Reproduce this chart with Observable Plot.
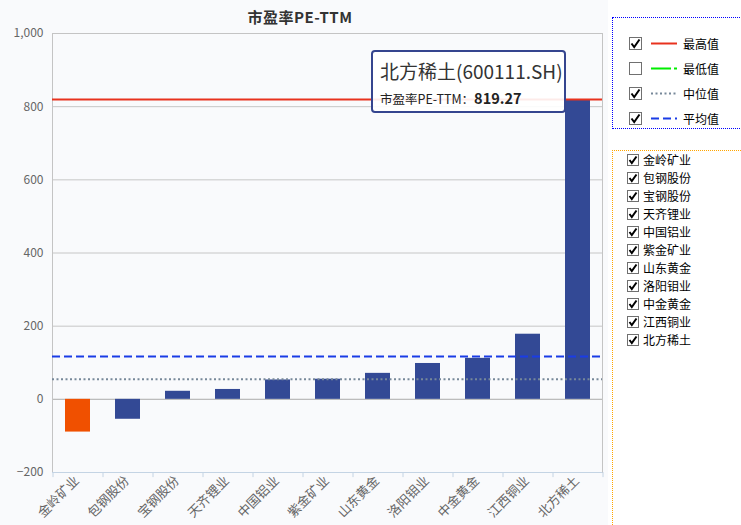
<!DOCTYPE html>
<html><head><meta charset="utf-8">
<script src="https://cdn.jsdelivr.net/npm/d3@7"></script>
<script src="https://cdn.jsdelivr.net/npm/@observablehq/plot@0.6"></script>
<style>
body{margin:0;background:#fff;font-family:"Noto Sans CJK SC","Noto Sans",sans-serif;}
#wrap{position:relative;width:741px;height:525px;overflow:hidden;background:#fff;}
#chart{position:absolute;left:0;top:0;}
#title{position:absolute;left:0;width:600px;top:7px;text-align:center;font-weight:bold;font-size:15px;letter-spacing:0.5px;line-height:20px;color:#333;}
#tip{position:absolute;left:371px;top:50px;width:191px;height:59px;border:2px solid #35458f;border-radius:4px;background:rgba(255,255,255,0.9);color:#222;}
#tip .t1{position:absolute;left:7px;top:5px;font-size:19px;color:#333;white-space:nowrap;}
#tip .t2{position:absolute;left:7px;top:38px;font-size:12.5px;white-space:nowrap;line-height:16px;}
#tip .t2 b{font-size:14.5px;}
#lg1{position:absolute;left:612px;top:17px;width:140px;height:110px;border:1px dotted #0000ff;}
#lg2{position:absolute;left:612px;top:150px;width:140px;height:400px;border-left:1px dotted #ffa500;border-top:1px dotted #ffa500;}
.row{position:absolute;font-size:12px;color:#000;white-space:nowrap;}
.row svg{position:absolute;left:0;top:0;}
.row span{position:absolute;}
</style></head>
<body>
<div id="wrap">
  <div id="chart"></div>
  <div id="title"></div>
  <div id="tip"><div class="t1"></div><div class="t2"></div></div>
  <div id="lg1"></div>
  <div id="lg2"></div>
</div>
<script>
const chartTitle = "市盈率PE-TTM";
const categories = ["金岭矿业","包钢股份","宝钢股份","天齐锂业","中国铝业","紫金矿业","山东黄金","洛阳钼业","中金黄金","江西铜业","北方稀土"];
const peValues = [-89.5, -54.5, 22, 27, 53, 55, 71, 98, 112, 178, 819.27];
const highlighted = "金岭矿业";
const yTicks = [-200, 0, 200, 400, 600, 800, 1000];
const refLabels = ["最高值","最低值","中位值","平均值"];
const refChecked = [true, false, true, true];
const tipName = "北方稀土";
const tipCode = "600111.SH";

const data = categories.map((c, i) => ({name: c, pe: peValues[i]}));
const stats = [d3.max(peValues), d3.min(peValues), d3.median(peValues), d3.mean(peValues)];
const refStyles = [
  {stroke: "#e8321e", strokeWidth: 2},
  {stroke: "#00ee00", strokeWidth: 2, strokeDasharray: "20,3,3,3"},
  {stroke: "#778899", strokeWidth: 2, strokeDasharray: "2,2.5"},
  {stroke: "#1a3ce6", strokeWidth: 2, strokeDasharray: "8,4"}
];

const refMarks = stats.map((v, i) => refChecked[i] ? Plot.ruleY([v], refStyles[i]) : null).filter(Boolean);

const chart = Plot.plot({
  width: 608, height: 525,
  marginTop: 33, marginBottom: 53, marginLeft: 52, marginRight: 6,
  style: {background: "#f9fafc", fontFamily: '"Noto Sans CJK SC","Noto Sans",sans-serif', fontSize: "12px", color: "#666"},
  x: {domain: categories, paddingInner: 0.5, paddingOuter: 0.25},
  y: {domain: [-200, 1000]},
  marks: [
    Plot.ruleY(yTicks.filter(t => t > -200), {stroke: "#c6c6c6"}),
    Plot.ruleY([0], {stroke: "#b8b8b8"}),
    Plot.frame({stroke: "#c4c4c4", fill: "none"}),
    Plot.ruleY([-200], {stroke: "#c4d4e4"}),
    Plot.ruleX(categories, {x: d => d, dx: -25, y1: -200, y2: -214, stroke: "#c4d4e4"}),
    Plot.ruleX(categories.slice(-1), {x: d => d, dx: 25, y1: -200, y2: -214, stroke: "#c4d4e4"}),
    Plot.barY(data, {x: "name", y: "pe", fill: d => d.name === highlighted ? "#f05000" : "#334995"}),
    ...refMarks,
    Plot.axisY({ticks: yTicks, tickSize: 0, tickPadding: 9, tickFormat: d3.format(","), fill: "#666", fontSize: 12, label: null}),
    Plot.axisX({tickSize: 0, tickRotate: -45, tickPadding: 6, dx: -1, fill: "#666", fontSize: 13, label: null})
  ]
});
document.getElementById("chart").appendChild(chart);
document.getElementById("title").textContent = chartTitle;

const ti = categories.indexOf(tipName);
document.querySelector("#tip .t1").textContent = `${tipName}(${tipCode})`;
document.querySelector("#tip .t2").innerHTML = `${chartTitle}：<b>${peValues[ti].toFixed(2)}</b>`;

function checkbox(checked, size) {
  return `<rect x="0.5" y="0.5" width="${size-1}" height="${size-1}" fill="#fff" stroke="#707070"/>` +
    (checked ? `<path d="M2.5 ${size*0.5} L${size*0.4} ${size-3} L${size-2.5} 2.5" fill="none" stroke="#000" stroke-width="2"/>` : "");
}
const lg1 = document.getElementById("lg1");
refLabels.forEach((lab, i) => {
  const r = document.createElement("div");
  r.className = "row";
  r.style.left = "16px"; r.style.top = (19 + i * 25) + "px";
  const st = refStyles[i];
  r.innerHTML = `<svg width="70" height="14">${checkbox(refChecked[i], 13)}
    <line x1="22" x2="48" y1="6.5" y2="6.5" stroke="${st.stroke}" stroke-width="2" ${st.strokeDasharray ? `stroke-dasharray="${st.strokeDasharray}"` : ""}/></svg>
    <span style="left:54px;top:-2px">${lab}</span>`;
  lg1.appendChild(r);
});
const lg2 = document.getElementById("lg2");
categories.forEach((c, i) => {
  const r = document.createElement("div");
  r.className = "row";
  r.style.left = "14px"; r.style.top = (3 + i * 18) + "px";
  r.innerHTML = `<svg width="14" height="14">${checkbox(true, 12)}</svg><span style="left:16px;top:-3px">${c}</span>`;
  lg2.appendChild(r);
});
</script>
</body></html>
